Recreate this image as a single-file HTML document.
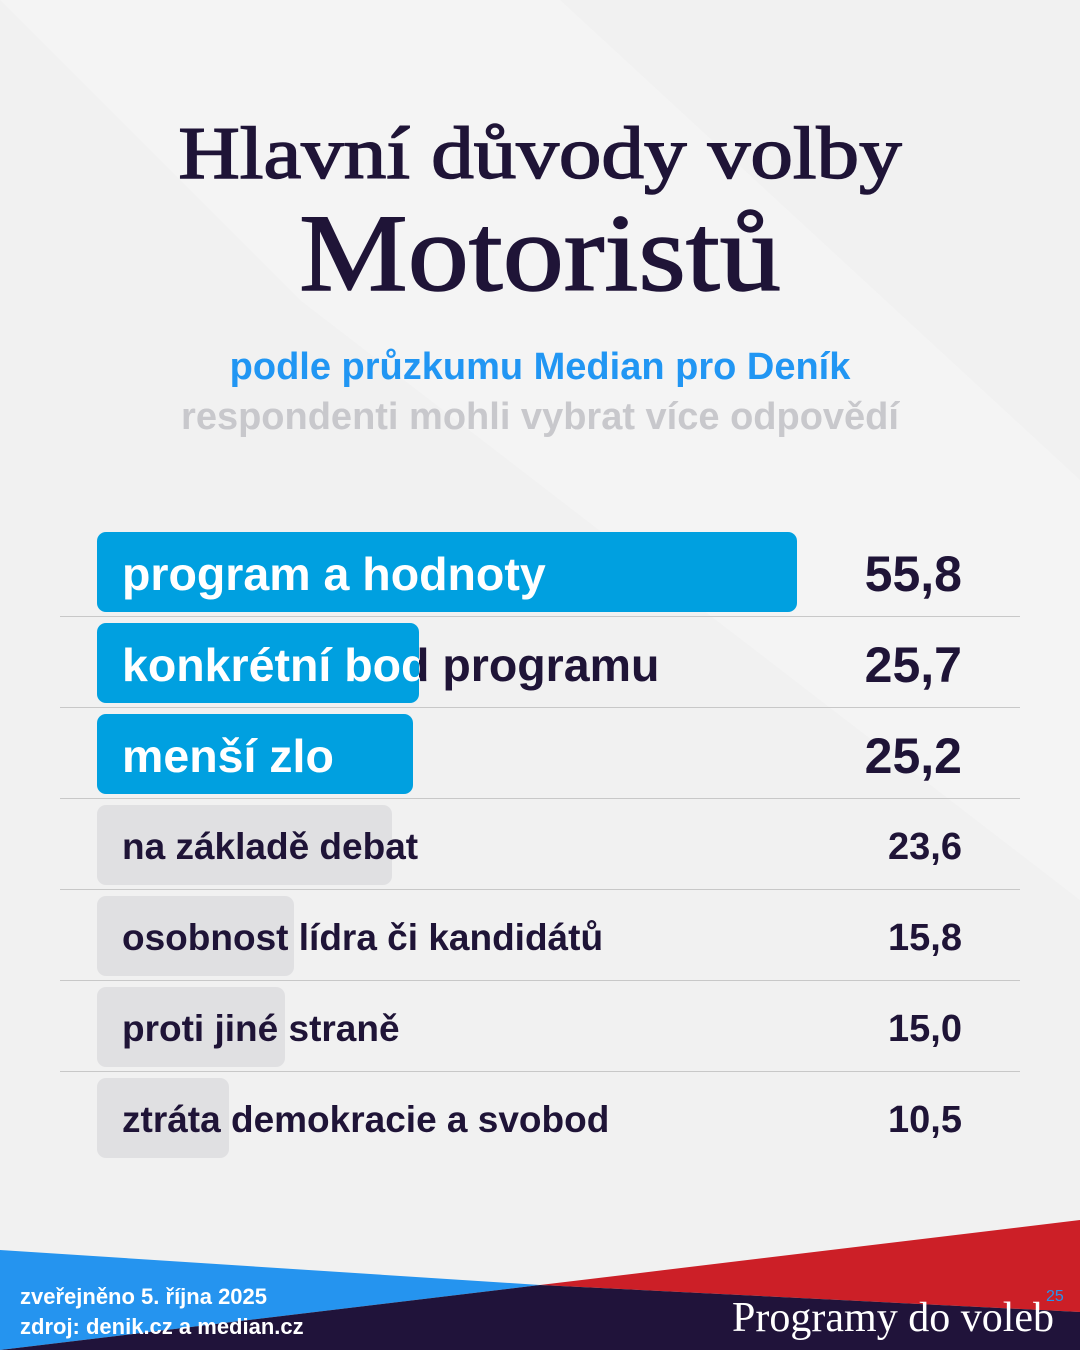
<!DOCTYPE html>
<html><head><meta charset="utf-8"><style>
body{margin:0;width:1080px;height:1350px;overflow:hidden;background:#f1f1f1;font-family:"Liberation Sans",sans-serif;position:relative}
.t1{position:absolute;left:0;width:1080px;text-align:center;font-family:"Liberation Serif",serif;color:#1f1437;-webkit-text-stroke:1.5px #1f1437}
.row{position:absolute;left:97px;height:80px}
.bar{position:absolute;left:0;top:0;height:80px;border-radius:9px;overflow:hidden;white-space:nowrap}
.lbl{position:absolute;left:25px;white-space:nowrap;font-weight:bold;color:#1f1437}
.big .lbl{font-size:46.5px;top:15px}
.sm .lbl{font-size:37px;top:21px}
.bar .lbl{color:#fff}
.val{position:absolute;right:118px;font-weight:bold;color:#1f1437;text-align:right}
.sep{position:absolute;left:60px;width:960px;height:1px;background:#c8c8c8}
</style></head><body>
<svg width="1080" height="1350" style="position:absolute;left:0;top:0">
<polygon points="0,0 560,0 1080,480 1080,900 300,300" fill="#f4f4f4"/>
<polygon points="0,1250 540,1285 0,1350" fill="#2594ef"/>
<polygon points="1080,1220 540,1285 1080,1312" fill="#cc1f27"/>
<polygon points="540,1285 1080,1312 1080,1350 0,1350" fill="#20133a"/>
</svg>
<div class="t1" style="top:112px;font-size:74px;transform:scaleX(1.15)">Hlavní důvody volby</div>
<div class="t1" style="top:190px;font-size:110px;transform:scaleX(1.11)">Motoristů</div>
<div style="position:absolute;top:346px;width:1080px;text-align:center;font-weight:bold;font-size:38px;color:#2196f3">podle průzkumu Median pro Deník</div>
<div style="position:absolute;top:396px;width:1080px;text-align:center;font-weight:bold;font-size:38px;color:#c8c8cc">respondenti mohli vybrat více odpovědí</div>

<div class="row big" style="top:532px"><div class="lbl">program a hodnoty</div><div class="bar" style="width:700px;background:#00a0e0"><div class="lbl">program a hodnoty</div></div></div>
<div class="val" style="top:545px;font-size:50px">55,8</div>
<div class="sep" style="top:616px"></div>
<div class="row big" style="top:623px"><div class="lbl">konkrétní bod programu</div><div class="bar" style="width:322px;background:#00a0e0"><div class="lbl">konkrétní bod programu</div></div></div>
<div class="val" style="top:636px;font-size:50px">25,7</div>
<div class="sep" style="top:707px"></div>
<div class="row big" style="top:714px"><div class="lbl">menší zlo</div><div class="bar" style="width:316px;background:#00a0e0"><div class="lbl">menší zlo</div></div></div>
<div class="val" style="top:727px;font-size:50px">25,2</div>
<div class="sep" style="top:798px"></div>
<div class="row sm" style="top:805px"><div class="bar" style="width:295px;background:#e0e0e2"></div><div class="lbl">na základě debat</div></div>
<div class="val" style="top:826px;font-size:38px">23,6</div>
<div class="sep" style="top:889px"></div>
<div class="row sm" style="top:896px"><div class="bar" style="width:197px;background:#e0e0e2"></div><div class="lbl">osobnost lídra či kandidátů</div></div>
<div class="val" style="top:917px;font-size:38px">15,8</div>
<div class="sep" style="top:980px"></div>
<div class="row sm" style="top:987px"><div class="bar" style="width:188px;background:#e0e0e2"></div><div class="lbl">proti jiné straně</div></div>
<div class="val" style="top:1008px;font-size:38px">15,0</div>
<div class="sep" style="top:1071px"></div>
<div class="row sm" style="top:1078px"><div class="bar" style="width:132px;background:#e0e0e2"></div><div class="lbl">ztráta demokracie a svobod</div></div>
<div class="val" style="top:1099px;font-size:38px">10,5</div>

<div style="position:absolute;left:20px;top:1282px;color:#fff;font-weight:bold;font-size:22px;line-height:30px">zveřejněno 5. října 2025<br>zdroj: denik.cz a median.cz</div>
<div style="position:absolute;right:26px;top:1294px;color:#fff;font-family:'Liberation Serif',serif;font-size:42px">Programy do voleb</div>
<div style="position:absolute;left:1046px;top:1288px;color:#2594ef;font-size:16px">25</div>
</body></html>
